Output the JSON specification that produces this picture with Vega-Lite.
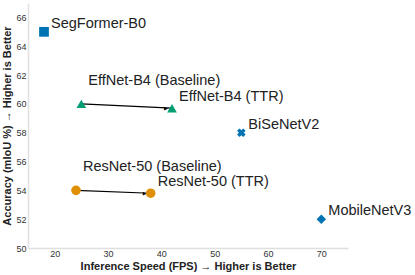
{
  "$schema": "https://vega.github.io/schema/vega-lite/v6.json",
  "autosize": {"type": "none"},
  "width": 320,
  "height": 245,
  "padding": {"left": 28, "top": 3, "right": 67, "bottom": 27},
  "config": {
    "view": {"stroke": null},
    "font": "Liberation Sans",
    "axis": {"grid": false, "ticks": false, "domainColor": "#e0e0e0", "domainWidth": 1.5, "labelFontSize": 9, "labelColor": "#333", "titleFontSize": 11, "titleFontWeight": "bold", "titleColor": "#222", "labelFont": "Liberation Sans", "titleFont": "Liberation Sans"}
  },
  "data": {"values": [
    {"model": "SegFormer-B0", "fps": 18, "miou": 65.0, "role": "single", "pair": "SegFormer", "kind": "SegFormer"},
    {"model": "EffNet-B4 (Baseline)", "fps": 25, "miou": 60.0, "role": "baseline", "pair": "EffNet", "kind": "EffNet"},
    {"model": "EffNet-B4 (TTR)", "fps": 42, "miou": 59.7, "role": "ttr", "pair": "EffNet", "kind": "EffNet"},
    {"model": "BiSeNetV2", "fps": 55, "miou": 58.0, "role": "single", "pair": "BiSeNet", "kind": "BiSeNet"},
    {"model": "ResNet-50 (Baseline)", "fps": 24, "miou": 54.0, "role": "baseline", "pair": "ResNet", "kind": "ResNet"},
    {"model": "ResNet-50 (TTR)", "fps": 38, "miou": 53.8, "role": "ttr", "pair": "ResNet", "kind": "ResNet"},
    {"model": "MobileNetV3", "fps": 70, "miou": 52.0, "role": "single", "pair": "MobileNet", "kind": "MobileNet"}
  ]},
  "encoding": {
    "x": {"field": "fps", "type": "quantitative", "scale": {"domain": [15, 75], "nice": false}, "axis": {"values": [20, 30, 40, 50, 60, 70], "title": "Inference Speed (FPS) → Higher is Better", "titlePadding": 2, "labelPadding": 1}},
    "y": {"field": "miou", "type": "quantitative", "scale": {"domain": [50, 67], "nice": false, "zero": false}, "axis": {"values": [50, 52, 54, 56, 58, 60, 62, 64, 66], "title": "Accuracy (mIoU %) → Higher is Better", "titlePadding": 3, "labelPadding": 2}}
  },
  "layer": [
    {
      "transform": [{"filter": "datum.role !== 'single'"}],
      "mark": {"type": "line", "color": "black", "strokeWidth": 1.2},
      "encoding": {"detail": {"field": "pair"}, "order": {"field": "fps"}}
    },
    {
      "transform": [{"filter": "datum.role === 'ttr'"}],
      "mark": {"type": "text", "text": "▶", "fontSize": 5, "dx": -6, "baseline": "middle", "align": "center", "color": "black", "font": "DejaVu Sans"}
    },
    {
      "transform": [{"filter": "datum.kind !== 'BiSeNet'"}],
      "mark": {"type": "point", "filled": true, "opacity": 1},
      "encoding": {
        "shape": {"field": "kind", "type": "nominal", "scale": {"domain": ["SegFormer", "EffNet", "ResNet", "MobileNet"], "range": ["square", "triangle-up", "circle", "diamond"]}, "legend": null},
        "color": {"field": "kind", "type": "nominal", "scale": {"domain": ["SegFormer", "EffNet", "ResNet", "MobileNet"], "range": ["#0173b2", "#029e73", "#de8f05", "#0173b2"]}, "legend": null},
        "size": {"field": "kind", "type": "nominal", "scale": {"domain": ["SegFormer", "EffNet", "ResNet", "MobileNet"], "range": [95, 90, 85, 140]}, "legend": null}
      }
    },
    {
      "transform": [{"filter": "datum.kind === 'BiSeNet'"}],
      "mark": {"type": "point", "shape": "cross", "angle": 45, "filled": true, "opacity": 1, "color": "#0173b2", "size": 75}
    },
    {
      "transform": [{"filter": "datum.role === 'single'"}],
      "mark": {"type": "text", "align": "left", "baseline": "middle", "dx": 7, "dy": -8, "fontSize": 14.5, "color": "#222"},
      "encoding": {"text": {"field": "model"}}
    },
    {
      "transform": [{"filter": "datum.role === 'ttr'"}],
      "mark": {"type": "text", "align": "left", "baseline": "middle", "dx": 7, "dy": -11, "fontSize": 14.5, "color": "#222"},
      "encoding": {"text": {"field": "model"}}
    },
    {
      "transform": [{"filter": "datum.role === 'baseline'"}],
      "mark": {"type": "text", "align": "left", "baseline": "middle", "dx": 7, "dy": -23, "fontSize": 14.5, "color": "#222"},
      "encoding": {"text": {"field": "model"}}
    }
  ]
}
